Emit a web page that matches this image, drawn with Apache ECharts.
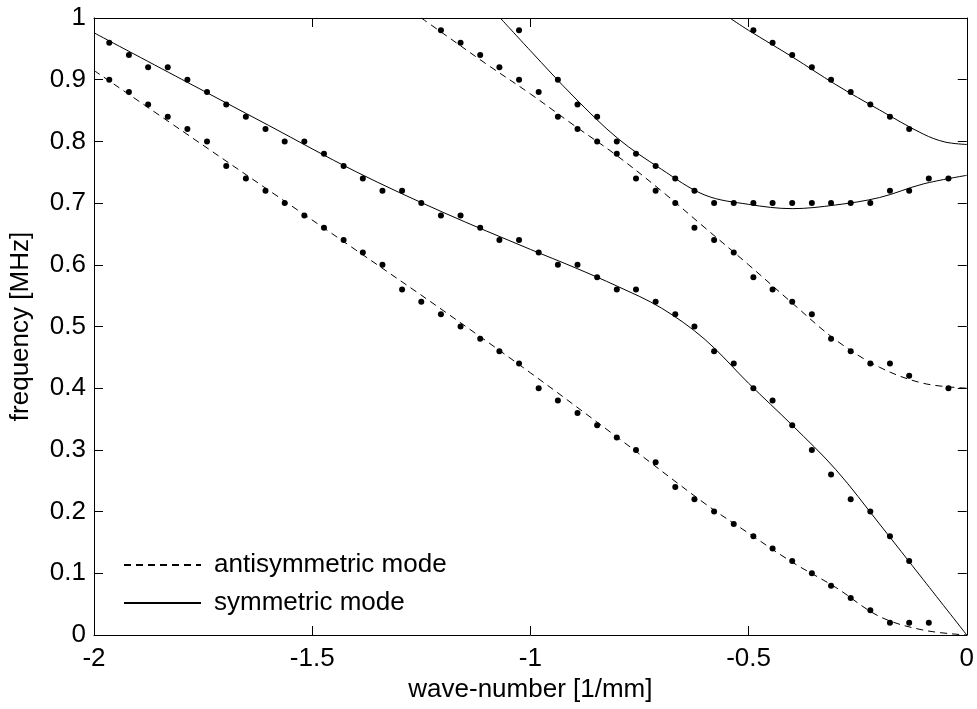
<!DOCTYPE html>
<html>
<head>
<meta charset="utf-8">
<script src="https://cdn.jsdelivr.net/npm/echarts@6/dist/echarts.min.js"></script>
<style>
  html, body { margin: 0; padding: 0; background: #fff; }
  #chart { width: 977px; height: 709px; }
</style>
</head>
<body>
<div id="chart"></div>
<script>
// measured wave-numbers of the dots [1/mm]
const waveNumbers = [
  -1.965, -1.920, -1.876, -1.831, -1.786, -1.741, -1.697, -1.652, -1.607, -1.563,
  -1.518, -1.473, -1.428, -1.384, -1.339, -1.294, -1.250, -1.205, -1.160, -1.115,
  -1.071, -1.026, -0.981, -0.937, -0.892, -0.847, -0.802, -0.758, -0.713, -0.668,
  -0.624, -0.579, -0.534, -0.489, -0.445, -0.400, -0.355, -0.311, -0.266, -0.221,
  -0.176, -0.132, -0.087, -0.042
]

// measured frequencies [MHz] per mode, aligned with waveNumbers (null = no dot)
const dotsA0 = [
  0.90, 0.88, 0.86, 0.84, 0.82, 0.80, 0.76, 0.74, 0.72, 0.70,
  0.68, 0.66, 0.64, 0.62, 0.60, 0.56, 0.54, 0.52, 0.50, 0.48,
  0.46, 0.44, 0.40, 0.38, 0.36, 0.34, 0.32, 0.30, 0.28, 0.24,
  0.22, 0.20, 0.18, 0.16, 0.14, 0.12, 0.10, 0.08, 0.06, 0.04,
  0.02, 0.02, 0.02, null
]
const dotsS0 = [
  0.96, 0.94, 0.92, 0.92, 0.90, 0.88, 0.86, 0.84, 0.82, 0.80,
  0.80, 0.78, 0.76, 0.74, 0.72, 0.72, 0.70, 0.68, 0.68, 0.66,
  0.64, 0.64, 0.62, 0.60, 0.60, 0.58, 0.56, 0.56, 0.54, 0.52,
  0.50, 0.46, 0.44, 0.40, 0.38, 0.34, 0.30, 0.26, 0.22, 0.20,
  0.16, 0.12, null, null
]
const dotsA1 = [
  null, null, null, null, null, null, null, null, null, null,
  null, null, null, null, null, null, null, 0.98, 0.96, 0.94,
  0.92, 0.90, 0.88, 0.84, 0.82, 0.80, 0.78, 0.74, 0.72, 0.70,
  0.66, 0.64, 0.62, 0.58, 0.56, 0.54, 0.52, 0.48, 0.46, 0.44,
  0.44, 0.42, null, 0.40
]
const dotsS1 = [
  null, null, null, null, null, null, null, null, null, null,
  null, null, null, null, null, null, null, null, null, null,
  null, 0.98, null, 0.90, 0.86, 0.84, 0.80, 0.78, 0.76, 0.74,
  0.72, 0.70, 0.70, 0.70, 0.70, 0.70, 0.70, 0.70, 0.70, 0.70,
  0.72, 0.72, 0.74, 0.74
]
const dotsS2 = [
  null, null, null, null, null, null, null, null, null, null,
  null, null, null, null, null, null, null, null, null, null,
  null, null, null, null, null, null, null, null, null, null,
  null, null, null, 0.98, 0.96, 0.94, 0.92, 0.90, 0.88, 0.86,
  0.84, 0.82, null, null
]

// theoretical dispersion curves: [wave-number, frequency]
const curveA0 = [
  [-2.0, 0.915], [-1.8, 0.818], [-1.6, 0.721], [-1.4, 0.624], [-1.2, 0.526],
  [-1.0, 0.425], [-0.8, 0.320], [-0.6, 0.213], [-0.5, 0.165], [-0.4, 0.118],
  [-0.3, 0.077], [-0.2, 0.030], [-0.1, 0.008], [0.0, 0.0]
]
const curveS0 = [
  [-2.0, 0.976], [-1.8, 0.901], [-1.6, 0.826], [-1.4, 0.751], [-1.2, 0.685],
  [-1.0, 0.625], [-0.9, 0.596], [-0.8, 0.565], [-0.7, 0.530], [-0.6, 0.479],
  [-0.5, 0.408], [-0.4, 0.340], [-0.3, 0.268], [-0.2, 0.180], [-0.1, 0.090],
  [0.0, 0.0]
]
const curveA1 = [
  [-1.25, 1.0], [-1.2, 0.975], [-1.1, 0.925], [-1.0, 0.877], [-0.9, 0.826],
  [-0.8, 0.776], [-0.7, 0.720], [-0.6, 0.660], [-0.5, 0.600], [-0.4, 0.538],
  [-0.3, 0.478], [-0.2, 0.434], [-0.1, 0.408], [0.0, 0.400]
]
const curveS1 = [
  [-1.069, 1.0], [-1.0, 0.947], [-0.9, 0.872], [-0.8, 0.805], [-0.7, 0.755],
  [-0.6, 0.713], [-0.5, 0.698], [-0.4, 0.691], [-0.3, 0.697], [-0.2, 0.709],
  [-0.1, 0.731], [0.0, 0.745]
]
const curveS2 = [
  [-0.543, 1.0], [-0.5, 0.980], [-0.4, 0.937], [-0.3, 0.892], [-0.2, 0.851],
  [-0.1, 0.812], [-0.05, 0.799], [0.0, 0.795]
]

const FONT = "'Liberation Sans', Arial, sans-serif"
const FONT_SIZE = 26
const ANTI = 'antisymmetric mode'
const SYM = 'symmetric mode'

function dotPairs(values) {
  const out = []
  values.forEach((v, i) => { if (v !== null) out.push([waveNumbers[i], v]) })
  return out
}

function curve(name, data, dashed) {
  return {
    name, type: 'line', data, symbol: 'none', smooth: 0.35,
    lineStyle: { color: '#000', width: 1, type: dashed ? [7, 5] : 'solid' },
    itemStyle: { color: '#000' },
    z: 2, silent: true
  }
}

function dots(data) {
  return {
    type: 'scatter', data: dotPairs(data), symbol: 'circle', symbolSize: 6,
    itemStyle: { color: '#000', opacity: 1 }, z: 3, silent: true
  }
}

const boxAxis = {
  axisLine: { show: true, onZero: false, lineStyle: { color: '#000', width: 1 } },
  axisTick: { show: true, inside: true, length: 9, lineStyle: { color: '#000' } },
  splitLine: { show: false }
}

const chart = echarts.init(document.getElementById('chart'))
chart.setOption({
  animation: false,
  backgroundColor: '#fff',
  textStyle: { fontFamily: FONT, color: '#000' },
  grid: { left: 93, right: 4, top: 18, bottom: 74 },
  legend: {
    orient: 'vertical', left: 123, top: 552, padding: 0,
    data: [ANTI, SYM],
    itemWidth: 77, itemHeight: 25, itemGap: 12,
    itemStyle: { opacity: 0 },
    textStyle: { fontFamily: FONT, fontSize: FONT_SIZE, color: '#000', padding: [0, 0, 0, 8] },
    selectedMode: false
  },
  xAxis: [{
    type: 'value', min: -2, max: 0, interval: 0.5, position: 'bottom',
    name: 'wave-number [1/mm]', nameLocation: 'middle', nameGap: 41,
    nameTextStyle: { fontFamily: FONT, fontSize: FONT_SIZE, color: '#000' },
    axisLabel: { fontFamily: FONT, fontSize: FONT_SIZE, color: '#000', margin: 11 },
    ...boxAxis
  }, {
    type: 'value', min: -2, max: 0, interval: 0.5, position: 'top',
    axisLabel: { show: false }, ...boxAxis
  }],
  yAxis: [{
    type: 'value', min: 0, max: 1, interval: 0.1, position: 'left',
    name: 'frequency [MHz]', nameLocation: 'middle', nameGap: 60,
    nameTextStyle: { fontFamily: FONT, fontSize: FONT_SIZE, color: '#000' },
    axisLabel: { fontFamily: FONT, fontSize: FONT_SIZE, color: '#000', margin: 8 },
    ...boxAxis
  }, {
    type: 'value', min: 0, max: 1, interval: 0.1, position: 'right',
    axisLabel: { show: false }, ...boxAxis
  }],
  series: [
    curve(ANTI, curveA0, true),
    curve(SYM, curveS0, false),
    curve(ANTI, curveA1, true),
    curve(SYM, curveS1, false),
    curve(SYM, curveS2, false),
    dots(dotsA0),
    dots(dotsS0),
    dots(dotsA1),
    dots(dotsS1),
    dots(dotsS2)
  ]
})
</script>
</body>
</html>
